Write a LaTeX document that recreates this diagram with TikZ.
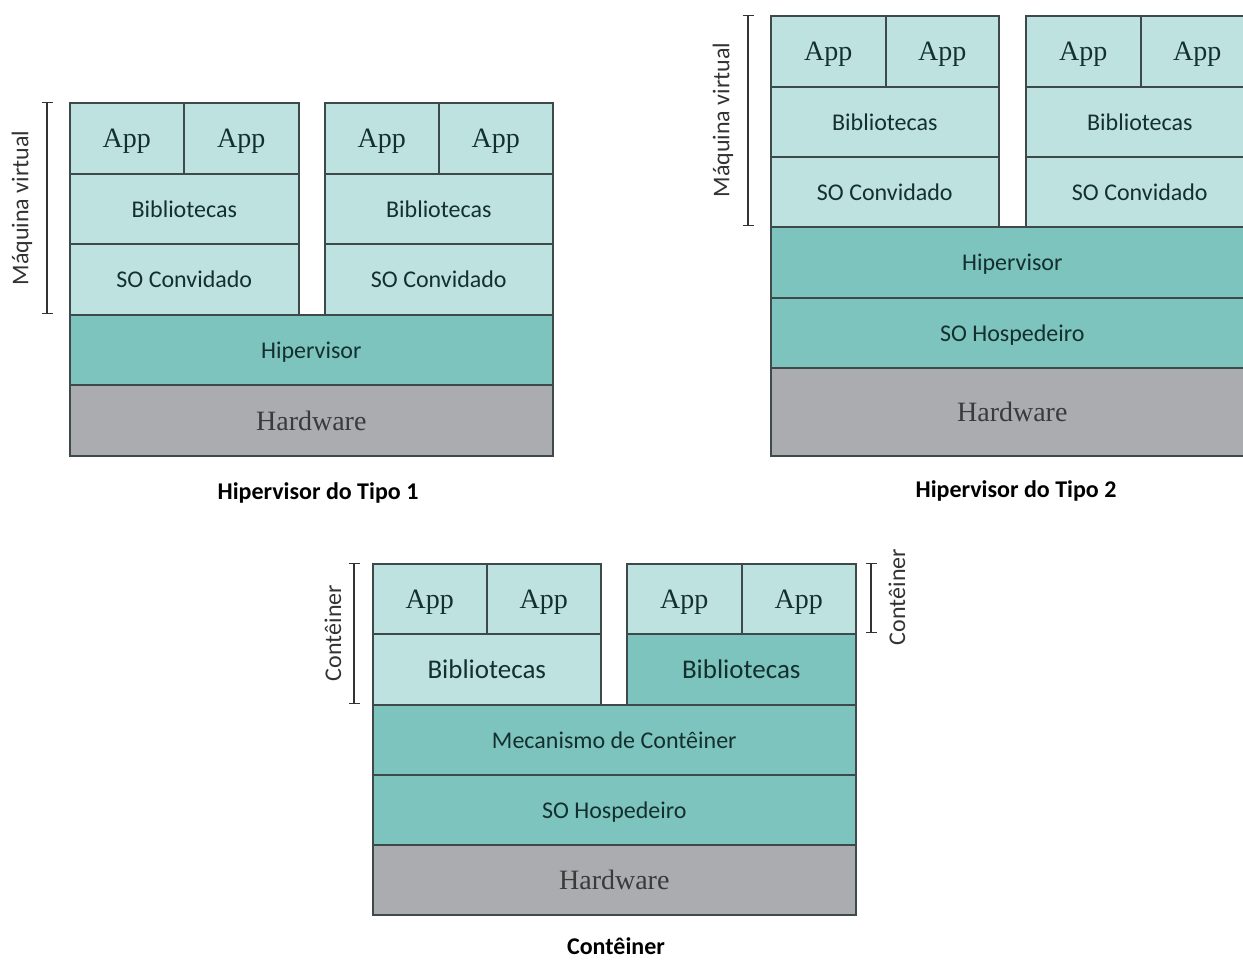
\documentclass[tikz,border=0pt]{standalone}
\usepackage{fontspec}
\setmainfont{Carlito}
\newfontfamily\serifapp{Liberation Serif}
\usetikzlibrary{arrows.meta}

\definecolor{lightteal}{HTML}{BEE2E0}
\definecolor{midteal}{HTML}{7EC4BE}
\definecolor{hwgray}{HTML}{AAACAF}
\definecolor{edgegray}{HTML}{3E4A4A}
\definecolor{darkteal}{HTML}{13302F}
\definecolor{hwtext}{HTML}{3A3A3A}
\definecolor{labelgray}{HTML}{333333}

\tikzset{
  layer/.style={draw=edgegray, line width=1.6pt, inner sep=0pt, anchor=north west,
    text=darkteal, text depth=0pt, font=\fontsize{24}{26}\selectfont},
  guest/.style={layer, fill=lightteal},
  host/.style={layer, fill=midteal},
  app/.style={guest, font=\serifapp\fontsize{28}{30}\selectfont},
  hw/.style={layer, fill=hwgray, text=hwtext, font=\serifapp\fontsize{28}{30}\selectfont},
  span/.style={draw=labelgray, line width=1.3pt, {Bar[width=11pt]}-{Bar[width=11pt]}},
  sidelabel/.style={rotate=90, text=labelgray, font=\fontsize{24}{26}\selectfont},
  caption/.style={text=black, font=\bfseries\fontsize{24}{26}\selectfont}
}

\begin{document}
\begin{tikzpicture}[x=1pt, y=-1pt]
\useasboundingbox (0,0) rectangle (1243,961);

% ---------- Hipervisor do Tipo 1 ----------
\node[app, minimum width=114pt, minimum height=71pt] (t1a1) at (69,102) {App};
\node[app, minimum width=115pt, minimum height=71pt] (t1a2) at (183,102) {App};
\node[guest, minimum width=229pt, minimum height=70pt] (t1b1) at (69,173) {Bibliotecas};
\node[guest, minimum width=229pt, minimum height=71pt] (t1s1) at (69,243) {SO Convidado};
\node[app, minimum width=114pt, minimum height=71pt] (t1a3) at (324,102) {App};
\node[app, minimum width=114pt, minimum height=71pt] (t1a4) at (438,102) {App};
\node[guest, minimum width=228pt, minimum height=70pt] (t1b2) at (324,173) {Bibliotecas};
\node[guest, minimum width=228pt, minimum height=71pt] (t1s2) at (324,243) {SO Convidado};
\node[host, minimum width=483pt, minimum height=70pt] (t1hv) at (69,314) {Hipervisor};
\node[hw, minimum width=483pt, minimum height=71pt] (t1hw) at (69,384) {Hardware};

\coordinate (t1top) at (47,102);
\coordinate (t1bot) at (47,314);
\draw[span] (t1top) -- (t1bot);
\node[sidelabel] (t1lab) at (22,208) {Máquina virtual};
\node[caption] (t1cap) at (318,493) {Hipervisor do Tipo 1};

% ---------- Hipervisor do Tipo 2 ----------
\node[app, minimum width=115pt, minimum height=71pt] (t2a1) at (770,15) {App};
\node[app, minimum width=113pt, minimum height=71pt] (t2a2) at (885,15) {App};
\node[guest, minimum width=228pt, minimum height=70pt] (t2b1) at (770,86) {Bibliotecas};
\node[guest, minimum width=228pt, minimum height=70pt] (t2s1) at (770,156) {SO Convidado};
\node[app, minimum width=115pt, minimum height=71pt] (t2a3) at (1025,15) {App};
\node[app, minimum width=113pt, minimum height=71pt] (t2a4) at (1140,15) {App};
\node[guest, minimum width=228pt, minimum height=70pt] (t2b2) at (1025,86) {Bibliotecas};
\node[guest, minimum width=228pt, minimum height=70pt] (t2s2) at (1025,156) {SO Convidado};
\node[host, minimum width=483pt, minimum height=71pt] (t2hv) at (770,226) {Hipervisor};
\node[host, minimum width=483pt, minimum height=70pt] (t2os) at (770,297) {SO Hospedeiro};
\node[hw, minimum width=483pt, minimum height=88pt] (t2hw) at (770,367) {Hardware};

\coordinate (t2top) at (748,15);
\coordinate (t2bot) at (748,226);
\draw[span] (t2top) -- (t2bot);
\node[sidelabel] (t2lab) at (723,120) {Máquina virtual};
\node[caption] (t2cap) at (1016,491) {Hipervisor do Tipo 2};

% ---------- Contêiner ----------
\node[app, minimum width=114pt, minimum height=70pt] (cta1) at (372,563) {App};
\node[app, minimum width=114pt, minimum height=70pt] (cta2) at (486,563) {App};
\node[guest, minimum width=228pt, minimum height=71pt,
      font=\fontsize{27}{29}\selectfont] (ctb1) at (372,633) {Bibliotecas};
\node[app, minimum width=115pt, minimum height=70pt] (cta3) at (626,563) {App};
\node[app, minimum width=114pt, minimum height=70pt] (cta4) at (741,563) {App};
\node[host, minimum width=229pt, minimum height=71pt,
      font=\fontsize{27}{29}\selectfont] (ctb2) at (626,633) {Bibliotecas};
\node[host, minimum width=483pt, minimum height=70pt] (ctme) at (372,704) {Mecanismo de Contêiner};
\node[host, minimum width=483pt, minimum height=70pt] (ctos) at (372,774) {SO Hospedeiro};
\node[hw, minimum width=483pt, minimum height=70pt] (cthw) at (372,844) {Hardware};

\coordinate (ctltop) at (354,563);
\coordinate (ctlbot) at (354,704);
\draw[span] (ctltop) -- (ctlbot);
\node[sidelabel] (ctllab) at (333,633) {Contêiner};

\coordinate (ctrtop) at (871,563);
\coordinate (ctrbot) at (871,633);
\draw[span] (ctrtop) -- (ctrbot);
\node[sidelabel] (ctrlab) at (897,597) {Contêiner};

\node[caption] (ctcap) at (616,946) {Contêiner};
\end{tikzpicture}
\end{document}
